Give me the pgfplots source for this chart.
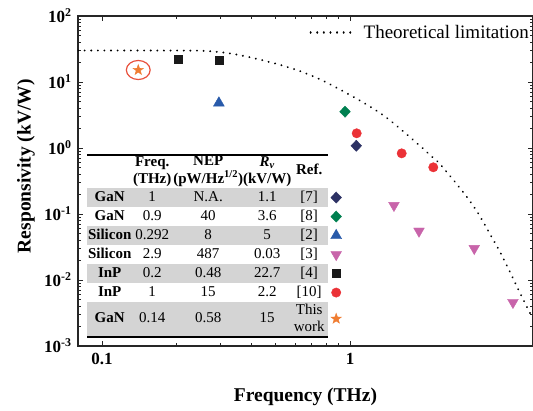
\documentclass[border=0pt]{standalone}
\usepackage{fontspec}
\setmainfont{Liberation Serif}
\usepackage[table]{xcolor}
\usepackage{array}
\usepackage{pgfplots}
\pgfplotsset{compat=1.18}

\definecolor{cnavy}{RGB}{45,50,100}
\definecolor{cgreen}{RGB}{0,128,80}
\definecolor{cblue}{RGB}{40,90,170}
\definecolor{cmag}{RGB}{200,100,170}
\definecolor{cblack}{RGB}{25,25,25}
\definecolor{cred}{RGB}{235,50,55}
\definecolor{corange}{RGB}{240,125,50}
\definecolor{cring}{RGB}{232,80,60}
\definecolor{tgray}{RGB}{212,212,212}

% filled five-pointed star mark
\pgfdeclareplotmark{fstar}{%
  \pgfpathmoveto{\pgfqpointpolar{90}{\pgfplotmarksize}}%
  \pgfpathlineto{\pgfqpointpolar{126}{0.40\pgfplotmarksize}}%
  \pgfpathlineto{\pgfqpointpolar{162}{\pgfplotmarksize}}%
  \pgfpathlineto{\pgfqpointpolar{198}{0.40\pgfplotmarksize}}%
  \pgfpathlineto{\pgfqpointpolar{234}{\pgfplotmarksize}}%
  \pgfpathlineto{\pgfqpointpolar{270}{0.40\pgfplotmarksize}}%
  \pgfpathlineto{\pgfqpointpolar{306}{\pgfplotmarksize}}%
  \pgfpathlineto{\pgfqpointpolar{342}{0.40\pgfplotmarksize}}%
  \pgfpathlineto{\pgfqpointpolar{18}{\pgfplotmarksize}}%
  \pgfpathlineto{\pgfqpointpolar{54}{0.40\pgfplotmarksize}}%
  \pgfpathclose
  \pgfusepathqfillstroke}

% legend marker for the table (same marks as the plot)
\newcommand\mk[4]{\begin{tikzpicture}[baseline=-0.6ex]\pgfsetfillcolor{#1}\pgfsetstrokecolor{#1}\pgfsetlinewidth{0.4bp}#4\pgfplotmarksize=#3\relax\pgfuseplotmark{#2}\end{tikzpicture}}
\newcommand\hd[2]{\begin{tabular}{@{}c@{}}\bfseries #1\\\bfseries #2\end{tabular}}
\newcommand\rs{\rule[-5.6bp]{0pt}{19bp}}

\begin{document}
\begin{tikzpicture}
\begin{axis}[
  xmode=log, ymode=log,
  scale only axis, width=455bp, height=330bp,
  xmin=0.080, xmax=5.47, ymin=1e-3, ymax=1e2,
  axis line style={line width=1.1bp, black!85},
  every tick/.style={black!85, line width=0.8bp},
  major tick length=5bp, minor tick length=3bp,
  xtick={0.1,1}, xticklabels={\textbf{0.1},\textbf{1}},
  ytick={1e-3,1e-2,1e-1,1,10,100},
  yticklabels={\textbf{10}\textsuperscript{\textbf{-3}},\textbf{10}\textsuperscript{\textbf{-2}},\textbf{10}\textsuperscript{\textbf{-1}},\textbf{10}\textsuperscript{\textbf{0}},\textbf{10}\textsuperscript{\textbf{1}},\textbf{10}\textsuperscript{\textbf{2}}},
  tick label style={font=\fontsize{17bp}{20bp}\selectfont},
  xticklabel style={yshift=-4bp},
  yticklabel style={xshift=-3bp},
  xlabel={\textbf{Frequency (THz)}},
  ylabel={\textbf{Responsivity (kV/W)}},
  every axis x label/.style={at={(rel axis cs:0.5,0)}, yshift=-51bp, anchor=center, font=\fontsize{19.5bp}{22bp}\selectfont},
  every axis y label/.style={at={(rel axis cs:0,0.545)}, xshift=-52bp, rotate=90, anchor=center, font=\fontsize{19.5bp}{22bp}\selectfont},
  legend style={draw=none, fill=none, at={(rel axis cs:1,1)}, anchor=north east, xshift=-2bp, yshift=-7bp,
    font=\fontsize{19bp}{22bp}\selectfont, inner sep=0pt},
  legend image code/.code={\draw[#1] (0bp,0bp) -- (44bp,0bp); \path (50bp,0bp);},
]
% theoretical limitation
\addplot[black, line width=2.1bp, line cap=round, dash pattern=on 0.01bp off 6.6bp, smooth, tension=0.4] coordinates {
 (0.080,30) (0.156,30) (0.248,29.8) (0.308,28.0) (0.36,25.5) (0.434,21.8) (0.522,18.2)
 (0.629,14.6) (0.757,11.0) (0.911,7.7) (1.13,4.9) (1.32,3.4) (1.50,2.37) (1.80,1.32)
 (2.04,0.87) (2.306,0.57) (2.61,0.328) (2.955,0.183) (3.29,0.102) (3.669,0.0498)
 (4.026,0.0266) (4.42,0.0132) (4.85,0.00635) (5.32,0.00316) (5.47,0.0026)
};
\addlegendentry{Theoretical limitation}
% [7] GaN
\addplot[forget plot, only marks, mark=diamond*, mark size=5.6bp, mark options={xscale=1.27, fill=cnavy, draw=cnavy, line width=0.4bp}] coordinates {(1.06,1.08)};
% [8] GaN
\addplot[forget plot, only marks, mark=diamond*, mark size=5.6bp, mark options={xscale=1.27, fill=cgreen, draw=cgreen, line width=0.4bp}] coordinates {(0.955,3.55)};
% [2] Silicon
\addplot[forget plot, only marks, mark=triangle*, mark size=6.3bp, mark options={fill=cblue, draw=cblue, line width=0.4bp}] coordinates {(0.296,4.8)};
% [3] Silicon
\addplot[forget plot, only marks, mark=triangle*, mark size=6.2bp, mark options={rotate=180, fill=cmag, draw=cmag, line width=0.4bp}] coordinates {(1.504,0.135) (1.898,0.0551) (3.17,0.0301) (4.54,0.00458)};
% [4] InP
\addplot[forget plot, only marks, mark=square*, mark size=4bp, mark options={fill=cblack, draw=cblack, line width=0.4bp}] coordinates {(0.203,22.5) (0.296,21.4)};
% [10] InP
\addplot[forget plot, only marks, mark=*, mark size=4.7bp, mark options={fill=cred, draw=cred, line width=0.4bp}] coordinates {(1.064,1.67) (1.616,0.83) (2.167,0.51)};
% this work
\addplot[forget plot, only marks, mark=fstar, mark size=5.5bp, mark options={fill=corange, draw=corange, line width=0.4bp}] coordinates {(0.14,15.2)};
\addplot[forget plot, only marks, mark=o, mark size=11.9bp, mark options={yscale=0.8, draw=cring, line width=1.2bp}] coordinates {(0.14,15.2)};
\end{axis}

\node[anchor=south west, inner sep=0pt, font=\fontsize{15bp}{17bp}\selectfont] at ([xshift=9bp,yshift=9.5bp]current axis.south west) {%
\setlength\tabcolsep{0pt}\setlength\arrayrulewidth{1.6bp}%
\begin{tabular}{w{c}{45bp}w{c}{40bp}w{c}{72bp}w{c}{46bp}w{c}{38bp}w{c}{16bp}}
\cline{1-5}
 & \hd{Freq.}{(THz)} & \hd{NEP}{(pW/Hz\textsuperscript{1/2})} & \hd{\textit{R}\textsubscript{\textit{v}}}{(kV/W)} & \textbf{Ref.} & \\
\rowcolor{tgray}\rs\textbf{GaN} & 1 & N.A. & 1.1 & [7] & \cellcolor{white}\mk{cnavy}{diamond*}{5.6bp}{\pgftransformxscale{1.27}} \\
\rs\textbf{GaN} & 0.9 & 40 & 3.6 & [8] & \mk{cgreen}{diamond*}{5.6bp}{\pgftransformxscale{1.27}} \\
\rowcolor{tgray}\rs\textbf{Silicon} & 0.292 & 8 & 5 & [2] & \cellcolor{white}\mk{cblue}{triangle*}{6.3bp}{} \\
\rs\textbf{Silicon} & 2.9 & 487 & 0.03 & [3] & \mk{cmag}{triangle*}{6.2bp}{\pgftransformrotate{180}} \\
\rowcolor{tgray}\rs\textbf{InP} & 0.2 & 0.48 & 22.7 & [4] & \cellcolor{white}\mk{cblack}{square*}{4bp}{} \\
\rs\textbf{InP} & 1 & 15 & 2.2 & [10] & \mk{cred}{*}{4.7bp}{} \\
\rowcolor{tgray}\textbf{GaN} & 0.14 & 0.58 & 15 & \begin{tabular}{@{}c@{}}This\\work\end{tabular} & \cellcolor{white}\mk{corange}{fstar}{5.5bp}{} \\
\cline{1-5}
\end{tabular}};

\pgfresetboundingbox
\path[use as bounding box] ([xshift=-78bp,yshift=-65bp]current axis.south west) rectangle ([yshift=16bp]current axis.north east);
\end{tikzpicture}
\end{document}
